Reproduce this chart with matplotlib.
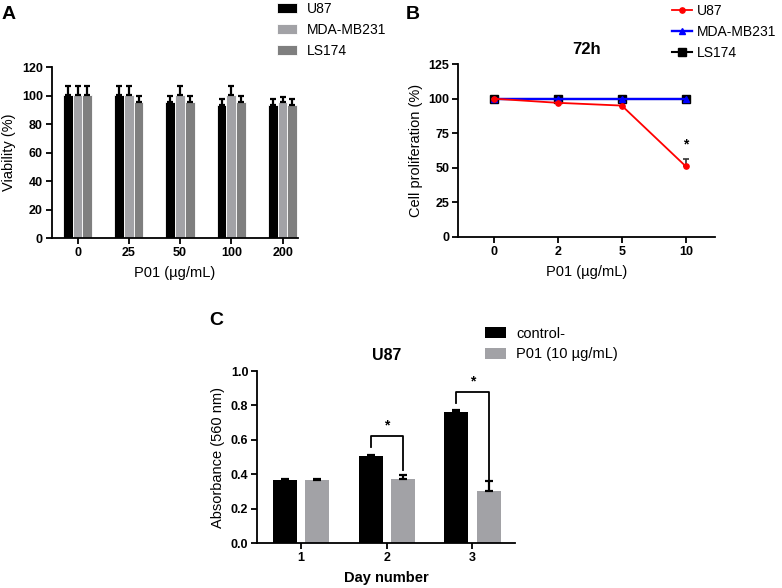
import matplotlib.pyplot as plt
import numpy as np

plt.rcParams['font.family'] = ['Liberation Sans', 'DejaVu Sans']

# --- dane panel A ---
dawki_a = ['0', '25', '50', '100', '200']
a_u87 = [100.5, 100.5, 95.5, 93.5, 93.5]
a_u87_err = [6.5, 6.5, 4.0, 4.0, 4.0]
a_mda = [100.5, 100.5, 100.5, 100.5, 95.5]
a_mda_err = [6.5, 6.5, 6.5, 6.5, 3.5]
a_ls = [100.5, 95.5, 95.5, 95.5, 93.5]
a_ls_err = [6.5, 4.0, 4.0, 4.0, 4.0]

# --- dane panel B ---
dawki_b = ['0', '2', '5', '10']
b_u87 = [100, 97, 95, 51]
b_u87_err = [0, 0, 0, 5.5]
b_mda = [100, 100, 100, 100]
b_ls = [100, 100, 100, 100]

# --- dane panel C ---
dni = ['1', '2', '3']
c_ctrl = [0.365, 0.505, 0.763]
c_ctrl_err = [0.005, 0.008, 0.008]
c_p01 = [0.366, 0.372, 0.303]
c_p01_err = [0.005, 0.022, 0.056]

CZARNY = '#000000'
JASNY = '#a2a2a6'
CIEMNY = '#7f7f7f'
TICK_FS = 9
LAB_FS = 10.5
LEG_FS = 10

fig = plt.figure(figsize=(7.82, 5.88), dpi=100)


def styl(ax):
    ax.spines['top'].set_visible(False)
    ax.spines['right'].set_visible(False)
    for s in ['left', 'bottom']:
        ax.spines[s].set_linewidth(1.3)
    ax.tick_params(width=1.3, length=4, labelsize=TICK_FS, pad=2.5)
    for lab in ax.get_xticklabels() + ax.get_yticklabels():
        lab.set_fontweight('bold')


# ---------------- PANEL A ----------------
axA = fig.add_axes([0.0665, 0.595, 0.3145, 0.291])
x = np.arange(len(dawki_a))
w = 0.19
ek = dict(ecolor='black', elinewidth=1.6, capsize=2.2, capthick=1.6)
axA.bar(x - w, a_u87, w, color=CZARNY, edgecolor='white', linewidth=0.6,
        yerr=[np.zeros(5), a_u87_err], error_kw=ek, label='U87')
axA.bar(x, a_mda, w, color=JASNY, edgecolor='white', linewidth=0.6,
        yerr=[np.zeros(5), a_mda_err], error_kw=ek, label='MDA-MB231')
axA.bar(x + w, a_ls, w, color=CIEMNY, edgecolor='white', linewidth=0.6,
        yerr=[np.zeros(5), a_ls_err], error_kw=ek, label='LS174')
axA.set_xlim(-0.5, 4.3)
axA.set_ylim(0, 120)
axA.set_yticks(range(0, 121, 20))
axA.set_xticks(x)
axA.set_xticklabels(dawki_a)
axA.set_ylabel('Viability (%)', fontsize=LAB_FS, labelpad=4)
axA.set_xlabel('P01 (µg/mL)', fontsize=LAB_FS, labelpad=5)
styl(axA)
axA.legend(loc='upper left', bbox_to_anchor=(0.352, 0.999),
           bbox_transform=fig.transFigure, frameon=False,
           fontsize=LEG_FS, handlelength=1.45, handleheight=0.8,
           handletextpad=0.7, labelspacing=0.5, borderaxespad=0, borderpad=0.1)
fig.text(0.002, 0.99, 'A', fontsize=14, fontweight='bold', va='top')

# ---------------- PANEL B ----------------
axB = fig.add_axes([0.586, 0.597, 0.328, 0.294])
xb = np.arange(len(dawki_b))
l_ls, = axB.plot(xb, b_ls, color='black', marker='s', markersize=6.2, lw=1.5,
                 zorder=3)
l_mda, = axB.plot(xb, b_mda, color='blue', marker='^', markersize=4.5, lw=1.7,
                  zorder=4)
axB.errorbar(xb, b_u87, yerr=[np.zeros(4), b_u87_err], fmt='none',
             ecolor='#333333', elinewidth=1.2, capsize=2, capthick=1.2,
             zorder=5)
l_u87, = axB.plot(xb, b_u87, color='red', marker='o', markersize=3.8, lw=1.3,
                  zorder=6)
axB.text(3, 62, '*', ha='center', va='bottom', fontsize=10, fontweight='bold')
axB.set_xlim(-0.55, 3.45)
axB.set_ylim(0, 125)
axB.set_yticks(range(0, 126, 25))
axB.set_xticks(xb)
axB.set_xticklabels(dawki_b)
axB.set_ylabel('Cell proliferation (%)', fontsize=LAB_FS, labelpad=4)
axB.set_xlabel('P01 (µg/mL)', fontsize=LAB_FS, labelpad=5)
axB.set_title('72h', fontsize=12, fontweight='bold', pad=7)
styl(axB)
axB.legend([l_u87, l_mda, l_ls], ['U87', 'MDA-MB231', 'LS174'],
           loc='upper left', bbox_to_anchor=(0.858, 0.996),
           bbox_transform=fig.transFigure, frameon=False, fontsize=LEG_FS,
           handlelength=1.45, handletextpad=0.35, labelspacing=0.5,
           borderaxespad=0, borderpad=0.1)
fig.text(0.519, 0.99, 'B', fontsize=14, fontweight='bold', va='top')

# ---------------- PANEL C ----------------
axC = fig.add_axes([0.329, 0.0765, 0.33, 0.2925])
xc = np.arange(1, len(dni) + 1)
wc = 0.28
off = 0.187
ekc = dict(ecolor='black', elinewidth=1.6, capsize=3, capthick=1.6)
axC.bar(xc - off, c_ctrl, wc, color=CZARNY,
        yerr=[np.zeros(3), c_ctrl_err], error_kw=ekc, label='control-')
axC.bar(xc + off, c_p01, wc, color=JASNY,
        yerr=[np.zeros(3), c_p01_err], error_kw=ekc, label='P01 (10 µg/mL)')

# klamry istotnosci
klamry = [(2, 0.559, 0.423, 0.621), (3, 0.816, 0.365, 0.876)]
for d, y_l, y_r, y_top in klamry:
    axC.plot([d - off, d - off, d + off, d + off], [y_l, y_top, y_top, y_r],
             color='black', lw=1.3)
    axC.text(d, y_top + 0.02, '*', ha='center', va='bottom', fontsize=10,
             fontweight='bold')

axC.set_xlim(0.49, 3.5)
axC.set_ylim(0, 1.0)
axC.set_yticks(np.arange(0, 1.01, 0.2))
axC.set_yticklabels([f'{v:.1f}' for v in np.arange(0, 1.01, 0.2)])
axC.set_xticks(xc)
axC.set_xticklabels(dni)
axC.set_ylabel('Absorbance (560 nm)', fontsize=LAB_FS, labelpad=4)
axC.set_xlabel('Day number', fontsize=LAB_FS, fontweight='bold', labelpad=5)
axC.set_title('U87', fontsize=11.5, fontweight='bold', pad=8)
styl(axC)
axC.legend(loc='upper left', bbox_to_anchor=(0.618, 0.447),
           bbox_transform=fig.transFigure, frameon=False,
           fontsize=LAB_FS, handlelength=1.45, handleheight=0.8,
           handletextpad=0.7, labelspacing=0.45, borderaxespad=0, borderpad=0.1)
fig.text(0.267, 0.47, 'C', fontsize=14, fontweight='bold', va='top')

fig.savefig('out.png', dpi=100)
